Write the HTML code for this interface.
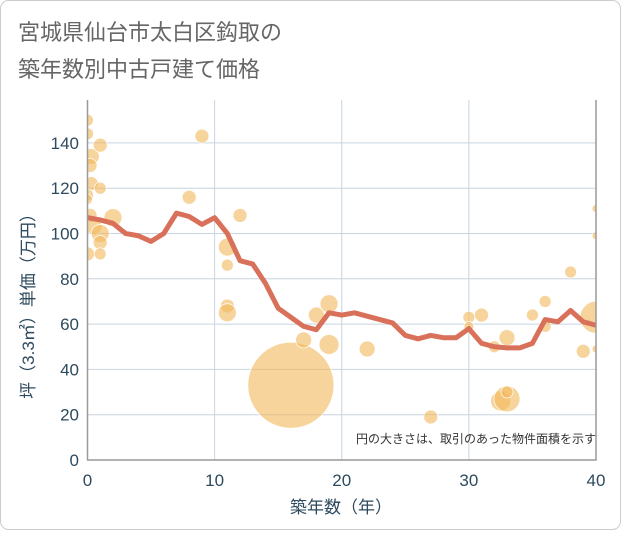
<!DOCTYPE html>
<html><head><meta charset="utf-8"><style>
body{margin:0;background:#fff}
#wrap{position:relative;width:621px;height:530px;font-family:"Liberation Sans","Noto Sans CJK JP",sans-serif}
</style></head><body>
<div id="wrap">
<svg id="svg" width="621" height="530">
<defs><clipPath id="pc"><rect x="88" y="90" width="508" height="370"/></clipPath></defs>
<rect x="0.5" y="0.5" width="620" height="529" rx="8" fill="#fff" stroke="#ccc"/>
<text x="18" y="40" font-size="22" fill="#666">宮城県仙台市太白区鈎取の</text>
<text x="18" y="77" font-size="22" fill="#666">築年数別中古戸建て価格</text>
<g id="grid"></g>
<g id="bubbles" clip-path="url(#pc)"></g>
<g id="lineg"></g>
<g id="axes"></g>
<text x="596" y="443" font-size="12" fill="#333" text-anchor="end">円の大きさは、取引のあった物件面積を示す</text>
<text x="341" y="513" font-size="17" fill="#2e4a5e" text-anchor="middle">築年数（年）</text>
<text transform="translate(34,302) rotate(-90)" font-size="17" fill="#2e4a5e" text-anchor="middle">坪（3.3㎡）単価（万円）</text>
</svg></div>
<script>
const xTicks=[0,10,20,30,40];
const yTicks=[0,20,40,60,80,100,120,140];
const lineYears=[0,1,2,3,4,5,6,7,8,9,10,11,12,13,14,15,16,17,18,19,20,21,22,23,24,25,26,27,28,29,30,31,32,33,34,35,36,37,38,39,40];
const lineValues=[107,106,104.5,100,99,96.5,100,109,107.5,104,107,100,88,86.5,78,67,63,59,57.5,65,64,65,63.5,62,60.5,55,53.5,55,54,54,58,51.5,50,49.5,49.5,51.5,62,61,66,61,59.5];
const bubbleX=[0,0,0.3,0.2,0.3,0,0,1,1,0.2,0.5,1,1,0,1,2,8,9,12,11,11,11,11,16,17,18,19,19,22,27,30,30,31,32.5,33,33,33,35,36,36,38,39,40,40,40,40,32];
const bubbleY=[150,144,134,130,122,117,115,139,120,108,103,100,96,91,91,107,116,143,108,94,86,68,65,33,53,64,69,51,49,19,63,59,64,26,27,30,54,64,70,59,83,48,111,99,63,49,50];
const bubbleR=[6,6,8,7,7,6,5,7,6,7,8,9,7,7,6,9,7,7,7,9,6,7,9,43,8,8,9,10,8,7,6,5,7,10,13,6,8,6,6,6,6,7,4,4,16,4,6];
const NS="http://www.w3.org/2000/svg";
const X=v=>87.5+v*(508.5/40), Y=v=>460-v*2.265;
function mk(t,a,p){const e=document.createElementNS(NS,t);for(const k in a)e.setAttribute(k,a[k]);p.appendChild(e);return e;}
const grid=document.getElementById('grid'),axes=document.getElementById('axes');
xTicks.forEach(t=>{
 const l=mk('line',{x1:X(t),x2:X(t),y1:100,y2:460,stroke:'#c8d4e0','stroke-width':1},grid);
 
 
 const tx=mk('text',{x:X(t),y:486,'font-size':17,fill:'#2e4a5e','text-anchor':'middle'},axes);tx.textContent=t;
 
 
});
yTicks.forEach(t=>{
 const l=mk('line',{x1:87.5,x2:596,y1:Y(t),y2:Y(t),stroke:'#c8d4e0','stroke-width':1},grid);
 
 
 const tx=mk('text',{x:79,y:Y(t)+6,'font-size':17,fill:'#2e4a5e','text-anchor':'end'},axes);tx.textContent=t;
 
 
});
const ax=mk('path',{d:'M87.5 100V460H596V100',fill:'none',stroke:'#999','stroke-width':1.5},axes);


const bg=document.getElementById('bubbles');
bubbleX.forEach((x,i)=>{
 const c=mk('circle',{cx:X(x),cy:Y(bubbleY[i]),r:bubbleR[i],fill:'#f2b85a','fill-opacity':0.6,stroke:'#fff','stroke-width':0.7},bg);
 
 
});
const pl=mk('polyline',{points:lineYears.map((x,i)=>X(x)+','+Y(lineValues[i])).join(' '),fill:'none',stroke:'#d9705a','stroke-width':5,'stroke-linejoin':'round'},document.getElementById('lineg'));


</script>
</body></html>
